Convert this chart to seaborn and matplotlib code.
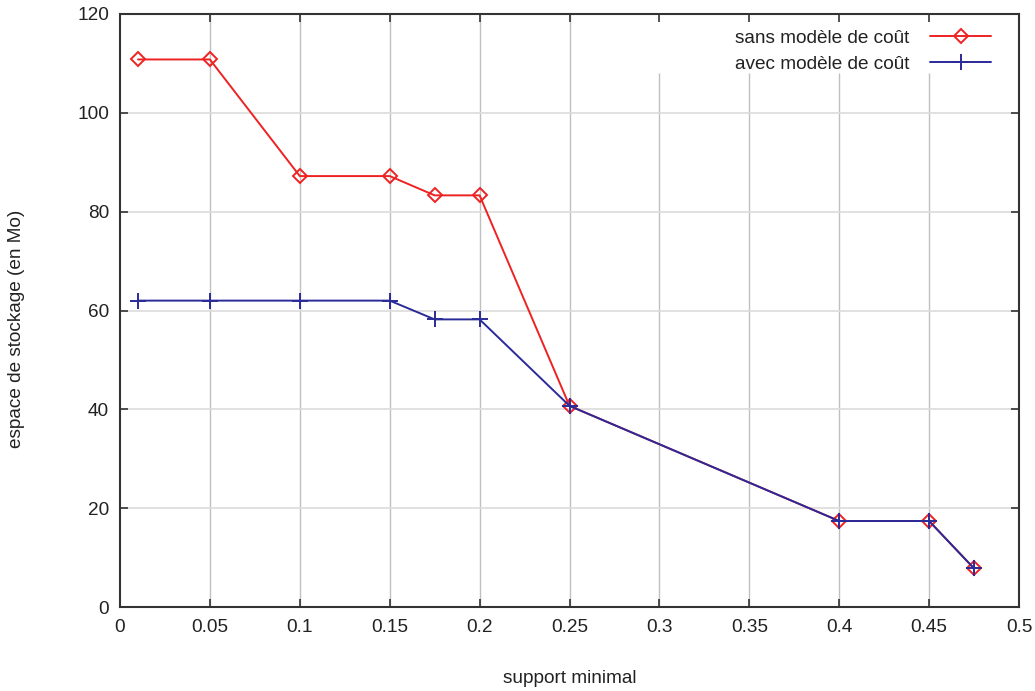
import matplotlib
matplotlib.use("Agg")
import matplotlib.pyplot as plt
import seaborn as sns
import pandas as pd

support = [0.01, 0.05, 0.1, 0.15, 0.175, 0.2, 0.25, 0.4, 0.45, 0.475]
sans_modele = [110.8, 110.8, 87.2, 87.2, 83.3, 83.3, 40.7, 17.4, 17.4, 7.8]
avec_modele = [62.0, 62.0, 62.0, 62.0, 58.2, 58.2, 40.7, 17.4, 17.4, 7.8]
xticks = [0, 0.05, 0.1, 0.15, 0.2, 0.25, 0.3, 0.35, 0.4, 0.45, 0.5]
xticklabels = ["0", "0.05", "0.1", "0.15", "0.2", "0.25", "0.3", "0.35", "0.4", "0.45", "0.5"]
yticks = [0, 20, 40, 60, 80, 100, 120]
label_sans = "sans modèle de coût"
label_avec = "avec modèle de coût"

sns.set_style("white")
plt.rcParams['font.family'] = ['Liberation Sans', 'DejaVu Sans']

fig = plt.figure(figsize=(10.35, 6.91), dpi=100)
ax = fig.add_axes([120/1035, 1 - 607/691, (1019-120)/1035, (607-14)/691])

df = pd.DataFrame({"support": support, "sans": sans_modele, "avec": avec_modele})

FS = 13.7

# grid
for x in xticks[1:-1]:
    top = 108 if x >= 0.3 else 120
    ax.vlines(x, 0, top, color="#c0c0c0", lw=1, zorder=0)
for y in yticks[1:-1]:
    ax.hlines(y, 0, 0.5, color="#dcdcdc", lw=1.2, zorder=0)

sns.lineplot(data=df, x="support", y="sans", ax=ax, color="#ee2222", lw=1.4,
             marker="D", markersize=7, markerfacecolor="none", markeredgecolor="#ee2222",
             markeredgewidth=1.4, label=label_sans, zorder=3)
sns.lineplot(data=df, x="support", y="avec", ax=ax, color="#2a2a99", lw=1.4,
             marker="+", markersize=11, markeredgecolor="#2a2a99",
             markeredgewidth=1.4, label=label_avec, zorder=4)

ax.set_xlim(0, 0.5)
ax.set_ylim(0, 120)
ax.set_xticks(xticks)
ax.set_xticklabels(xticklabels)
ax.set_yticks(yticks)
ax.tick_params(direction="in", length=6, width=1.2, color="#333333", labelsize=FS,
               labelcolor="#222222", top=True, right=True, bottom=True, left=True, pad=9)
ax.tick_params(axis="y", pad=8)
for s in ax.spines.values():
    s.set_color("#333333")
    s.set_linewidth(1.5)

ax.set_xlabel("support minimal", fontsize=FS, color="#222222", labelpad=24)
ax.set_ylabel("espace de stockage (en Mo)", fontsize=FS, color="#222222")
ax.yaxis.set_label_coords(-0.1057, 0.469)

leg = ax.legend(loc="upper right", markerfirst=False, frameon=False, fontsize=FS,
                handlelength=3.2, handletextpad=1.1, labelspacing=0.45,
                bbox_to_anchor=(0.988, 1.003), alignment="right")
for t in leg.get_texts():
    t.set_color("#222222")

fig.savefig("out.png", dpi=100)
